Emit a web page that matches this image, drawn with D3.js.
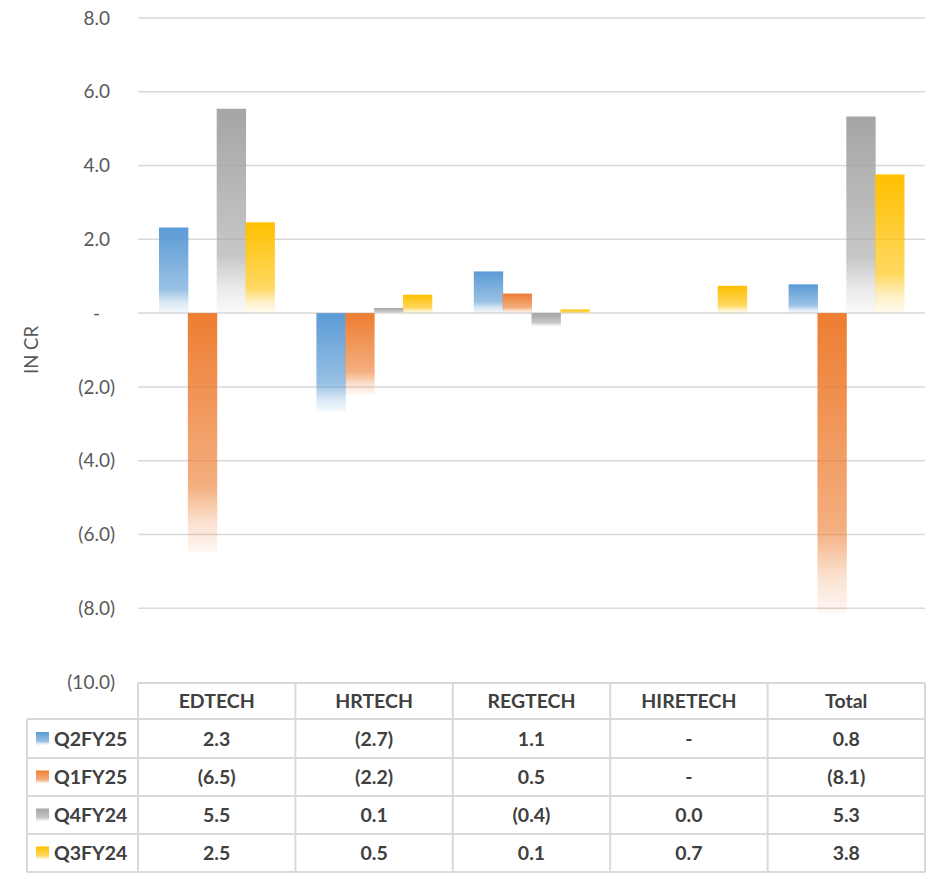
<!DOCTYPE html>
<html><head><meta charset="utf-8">
<script src="https://cdn.jsdelivr.net/npm/d3@7"></script>
<style>body{margin:0;background:#fff}svg{display:block}</style>
</head><body>
<script>
const categories = ["EDTECH", "HRTECH", "REGTECH", "HIRETECH", "Total"];
const seriesNames = ["Q2FY25", "Q1FY25", "Q4FY24", "Q3FY24"];
const seriesColors = ["#5B9BD5", "#ED7D31", "#A5A5A5", "#FFC000"];
const q2fy25 = [2.32, -2.67, 1.13, 0, 0.78];
const q1fy25 = [-6.49, -2.2, 0.53, 0, -8.14];
const q4fy24 = [5.54, 0.14, -0.36, 0.004, 5.33];
const q3fy24 = [2.46, 0.5, 0.1, 0.74, 3.76];
const yTicks = [8, 6, 4, 2, 0, -2, -4, -6, -8, -10];
const yTitle = "IN CR";

const seriesValues = [q2fy25, q1fy25, q4fy24, q3fy24];
const W = 930, H = 873;
const svg = d3.select("body").append("svg").attr("width", W).attr("height", H);
const font = "Lato, 'Open Sans', sans-serif";

const plotL = 138, plotR = 925;
const y = d3.scaleLinear().domain([-10, 8]).range([682, 18]);
const x0 = d3.scaleBand().domain(categories).range([plotL, plotR]).padding(0);
const x1 = d3.scaleBand().domain(seriesNames).range([21, x0.bandwidth() - 21]).padding(0);

// gradients
const defs = svg.append("defs");
seriesColors.forEach((c, i) => {
  const g = defs.append("linearGradient").attr("id", "g" + i)
    .attr("x1", 0).attr("y1", 0).attr("x2", 0).attr("y2", 1);
  [[0, 1], [0.72, 0.62], [0.88, 0.22], [1, 0.06]].forEach(([o, op]) =>
    g.append("stop").attr("offset", o).attr("stop-color", c).attr("stop-opacity", op));
});

// gridlines
svg.append("g").selectAll("line").data(yTicks.filter(d => d > -10)).join("line")
  .attr("x1", plotL).attr("x2", plotR)
  .attr("y1", d => y(d)).attr("y2", d => y(d))
  .attr("stroke", "#d9d9d9").attr("stroke-width", 1.5);

// tick labels
const fmtTick = d => d === 0 ? "-" : d < 0 ? "(" + (-d).toFixed(1) + ")" : d.toFixed(1);
svg.append("g").selectAll("text").data(yTicks).join("text")
  .attr("x", d => d === 0 ? 100 : d < 0 ? 115 : 110)
  .attr("y", d => y(d)).attr("dy", "0.35em")
  .attr("text-anchor", "end")
  .attr("font-family", font).attr("font-size", 19).attr("fill", "#595959")
  .text(fmtTick);

// y title
svg.append("text").attr("transform", "translate(38,350) rotate(-90)")
  .attr("text-anchor", "middle").attr("font-family", font).attr("font-size", 18.5)
  .attr("fill", "#595959").text(yTitle);

// bars
const bars = svg.append("g");
seriesValues.forEach((vals, si) => {
  bars.append("g").selectAll("rect").data(vals.map((v, ci) => ({ v, c: categories[ci] }))).join("rect")
    .attr("x", d => x0(d.c) + x1(seriesNames[si]))
    .attr("width", x1.bandwidth() + 0.5)
    .attr("y", d => y(Math.max(0, d.v)))
    .attr("height", d => Math.abs(y(d.v) - y(0)))
    .attr("fill", "url(#g" + si + ")");
});

// table
const rowY = [683, 719, 758, 796, 834, 872];
const legL = 27;
const tbl = svg.append("g");
const bc = "#d9d9d9";
tbl.append("line").attr("x1", plotL).attr("x2", plotR).attr("y1", rowY[0]).attr("y2", rowY[0]).attr("stroke", bc).attr("stroke-width", 2);
rowY.slice(1).forEach(ry => tbl.append("line").attr("x1", legL).attr("x2", plotR).attr("y1", ry).attr("y2", ry).attr("stroke", bc).attr("stroke-width", 2));
tbl.append("line").attr("x1", legL).attr("x2", legL).attr("y1", rowY[1]).attr("y2", rowY[5]).attr("stroke", bc).attr("stroke-width", 2);
categories.forEach(c => tbl.append("line").attr("x1", x0(c)).attr("x2", x0(c)).attr("y1", rowY[0]).attr("y2", rowY[5]).attr("stroke", bc).attr("stroke-width", 2));
tbl.append("line").attr("x1", plotR).attr("x2", plotR).attr("y1", rowY[0]).attr("y2", rowY[5]).attr("stroke", bc).attr("stroke-width", 2);

tbl.selectAll("text.h").data(categories).join("text").attr("class", "h")
  .attr("x", d => x0(d) + x0.bandwidth() / 2).attr("y", (rowY[0] + rowY[1]) / 2).attr("dy", "0.36em")
  .attr("text-anchor", "middle").attr("font-family", font).attr("font-weight", "bold")
  .attr("font-size", 19.5).attr("fill", "#404040").text(d => d);

const fmtVal = v => v === 0 ? "-" : v < 0 ? "(" + (-v).toFixed(1) + ")" : v.toFixed(1);
seriesNames.forEach((s, si) => {
  const cy = (rowY[si + 1] + rowY[si + 2]) / 2;
  tbl.append("rect").attr("x", 36).attr("y", cy - 6.5).attr("width", 13).attr("height", 13).attr("fill", "url(#g" + si + ")");
  tbl.append("text").attr("x", 54).attr("y", cy).attr("dy", "0.36em")
    .attr("font-family", font).attr("font-weight", "bold").attr("font-size", 19.5).attr("fill", "#404040").text(s);
  tbl.append("g").selectAll("text").data(seriesValues[si]).join("text")
    .attr("x", (d, ci) => x0(categories[ci]) + x0.bandwidth() / 2).attr("y", cy).attr("dy", "0.36em")
    .attr("text-anchor", "middle").attr("font-family", font).attr("font-weight", "bold")
    .attr("font-size", 19.5).attr("fill", "#404040").text(fmtVal);
});
</script>
</body></html>
